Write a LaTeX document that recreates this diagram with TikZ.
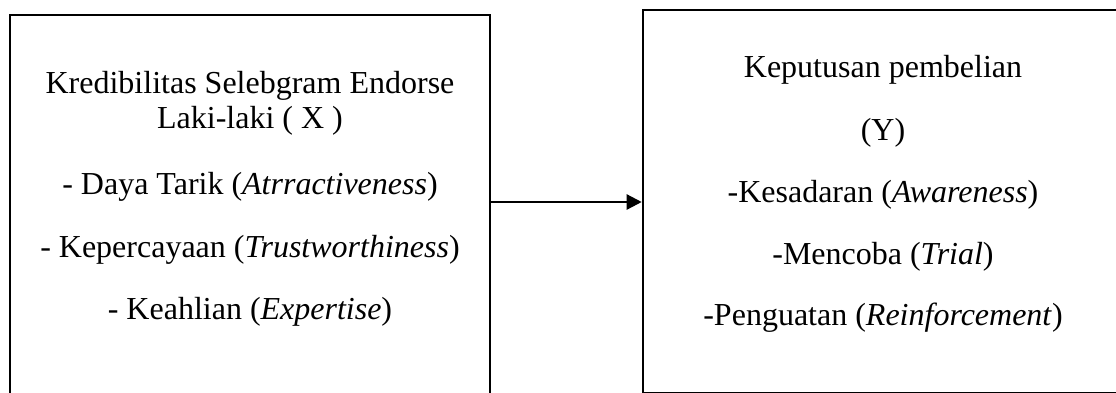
\documentclass[tikz,border=0pt]{standalone}
\usepackage{fontspec}
\setmainfont{Liberation Serif}
\usetikzlibrary{arrows.meta}
\begin{document}
\begin{tikzpicture}[x=0.4pt,y=-0.4pt,
  box/.style={draw,line width=1pt,inner sep=0pt,fill=none},
  txt/.style={anchor=base,inner sep=0pt,font=\fontsize{12.8pt}{15pt}\selectfont},
  link/.style={line width=0.9pt,-{Triangle[length=6pt,width=6pt]}}]
\useasboundingbox (0,0) rectangle (1116,393);
\clip (0,0) rectangle (1116,393);
% boxes (partly cut off by the picture's edge, as in the reference)
\node[box,minimum width=192pt,minimum height=166pt] (lbox) at (250,222.5) {};
\node[box,minimum width=192pt,minimum height=153.4pt] (rbox) at (883,201.75) {};
% left texts
\node[txt] (l1) at (250,93) {Kredibilitas Selebgram Endorse};
\node[txt] (l2) at (250,128) {Laki-laki ( X )};
\node[txt] (l3) at (250,195) {- Daya Tarik (\textit{Atrractiveness})};
\node[txt] (l4) at (250,257) {- Kepercayaan (\textit{Trustworthiness})};
\node[txt] (l5) at (250,319) {- Keahlian (\textit{Expertise})};
% right texts
\node[txt] (r1) at (883,78) {Keputusan pembelian};
\node[txt] (r2) at (883,140) {(Y)};
\node[txt] (r3) at (883,202) {-Kesadaran (\textit{Awareness})};
\node[txt] (r4) at (883,264) {-Mencoba (\textit{Trial})};
\node[txt] (r5) at (883,326) {-Penguatan (\textit{Reinforcement})};
% connector
\coordinate (a1) at (lbox.east |- 0,202);
\draw[link] (a1) -- (a1 -| rbox.west);
\end{tikzpicture}
\end{document}
